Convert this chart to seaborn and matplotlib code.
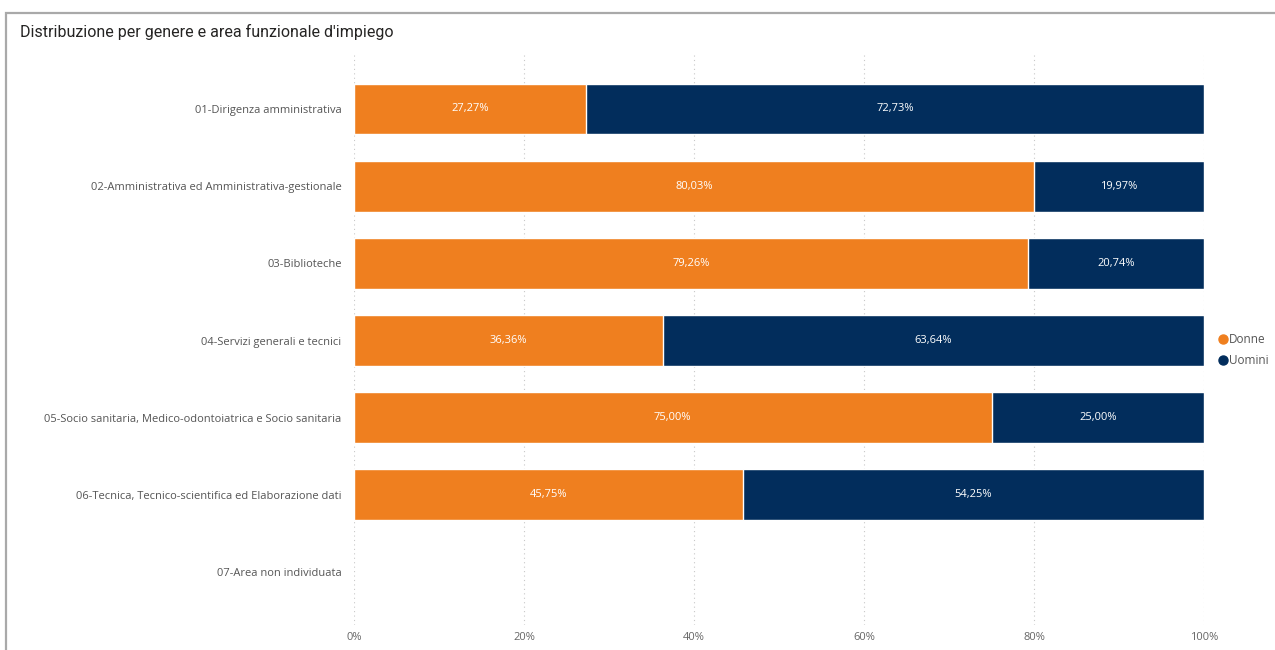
import numpy as np
import pandas as pd
import matplotlib
matplotlib.use("Agg")
import matplotlib.pyplot as plt
from matplotlib.lines import Line2D
from matplotlib.patches import Rectangle
import seaborn as sns

# Functional areas and gender percentages
aree = [
    "01-Dirigenza amministrativa",
    "02-Amministrativa ed Amministrativa-gestionale",
    "03-Biblioteche",
    "04-Servizi generali e tecnici",
    "05-Socio sanitaria, Medico-odontoiatrica e Socio sanitaria",
    "06-Tecnica, Tecnico-scientifica ed Elaborazione dati",
    "07-Area non individuata",
]
donne = [27.27, 80.03, 79.26, 36.36, 75.00, 45.75, np.nan]
uomini = [72.73, 19.97, 20.74, 63.64, 25.00, 54.25, np.nan]
x_ticks = [0, 20, 40, 60, 80, 100]
x_labels = ["0%", "20%", "40%", "60%", "80%", "100%"]

COL_D = "#EF7F1F"
COL_U = "#022D5C"

df = pd.DataFrame({"area": aree, "Donne": donne, "Uomini": uomini})
df["totale"] = df["Donne"] + df["Uomini"]

sns.set_theme(style="white")
plt.rcParams["font.family"] = ["Open Sans", "DejaVu Sans"]

fig = plt.figure(figsize=(12.75, 6.5), dpi=100)
W, H = 1275, 650
ax = fig.add_axes([354 / W, 1 - 625 / H, 850 / W, 570 / H])

# stacked: full bar in navy, women share in orange on top
sns.barplot(data=df, y="area", x="totale", order=aree, color=COL_U,
            orient="h", width=0.66, ax=ax, saturation=1, zorder=3)
sns.barplot(data=df, y="area", x="Donne", order=aree, color=COL_D,
            orient="h", width=0.66, ax=ax, saturation=1, zorder=4)

fmt = lambda v: f"{v:.2f}%".replace(".", ",")
for i, (d, u) in enumerate(zip(donne, uomini)):
    if np.isnan(d):
        continue
    ax.text(d / 2, i, fmt(d), ha="center", va="center", color="white",
            fontsize=8, zorder=5)
    ax.text(d + u / 2, i, fmt(u), ha="center", va="center", color="white",
            fontsize=8, zorder=5)

# row 0 at y=109 px, row 6 at y=572 px
step = (572 - 109) / 6
ax.set_ylim(6 + (625 - 572) / step, -(109 - 55) / step)
ax.set_xlim(0, 100)
ax.set_xticks(x_ticks)
ax.set_xticklabels(x_labels, fontsize=8, color="#666666")
ax.tick_params(axis="y", labelsize=8, labelcolor="#555555", length=0, pad=9)
ax.tick_params(axis="x", length=0, pad=5)
ax.set_xlabel("")
ax.set_ylabel("")
for s in ax.spines.values():
    s.set_visible(False)
ax.xaxis.grid(True, linestyle=(0, (1, 3)), color="#C8C8C8", linewidth=0.8, zorder=0)
ax.set_axisbelow(True)

# title and frame
fig.text(20 / W, 1 - 32 / H, "Distribuzione per genere e area funzionale d'impiego",
         fontsize=11.5, color="#252423", va="center", ha="left",
         family=["Roboto", "DejaVu Sans"])
fig.add_artist(Rectangle((6 / W, -0.1), 1.2, 1 - 13 / H + 0.1,
                         transform=fig.transFigure, fill=False,
                         edgecolor="#A9A9A9", linewidth=1.6))

handles = [Line2D([0], [0], marker="o", linestyle="", markersize=6.5,
                  markerfacecolor=c, markeredgecolor=c) for c in (COL_D, COL_U)]
fig.legend(handles, ["Donne", "Uomini"], loc="center left",
           bbox_to_anchor=(1215 / W, 1 - 350 / H), frameon=False,
           fontsize=8.5, handletextpad=0.0, labelspacing=0.7,
           labelcolor="#555555", handlelength=1.0, borderaxespad=0,
           borderpad=0.2)

fig.savefig("out.png", dpi=100)
